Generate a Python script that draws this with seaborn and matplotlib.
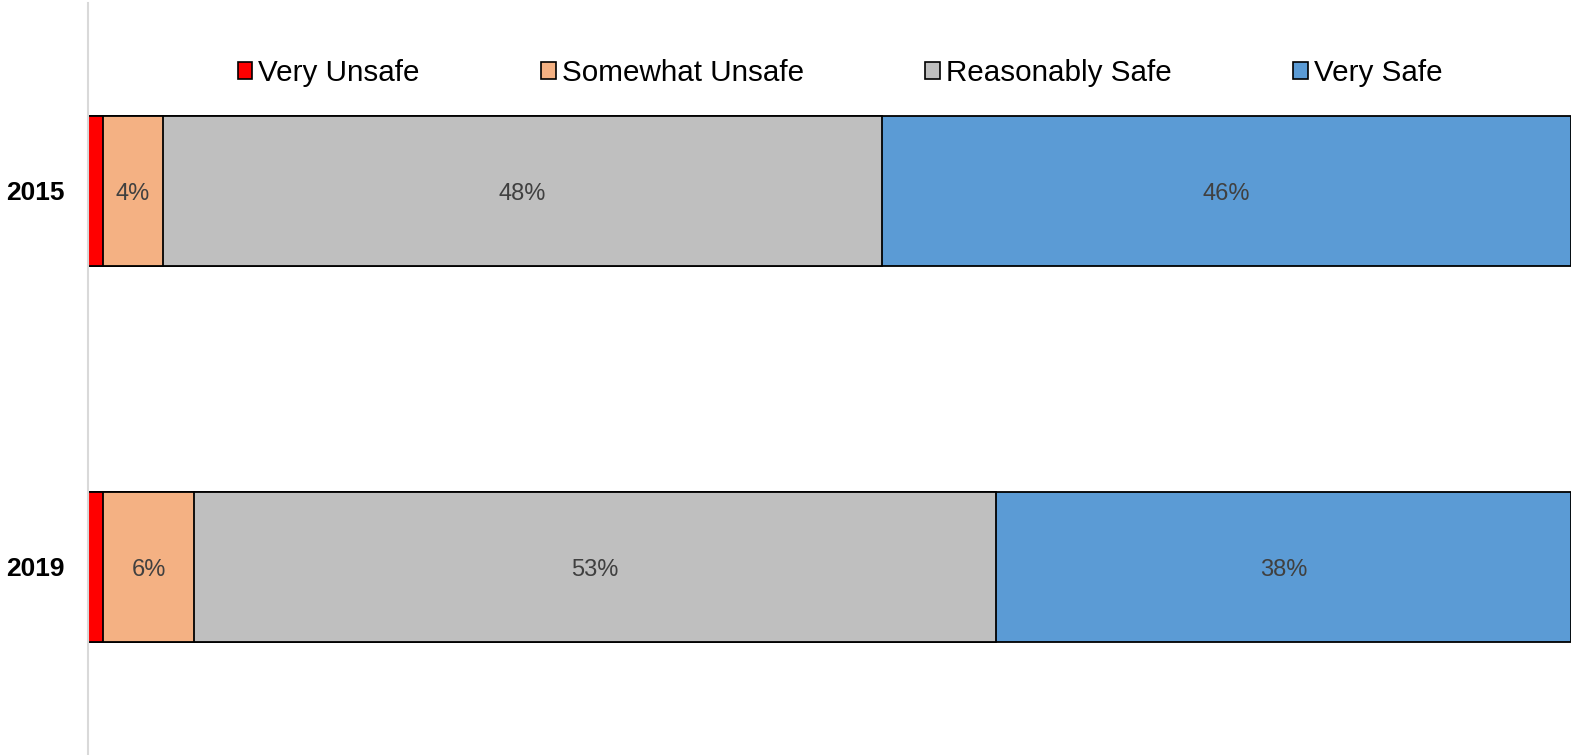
import matplotlib
matplotlib.use('Agg')
import matplotlib.pyplot as plt
import numpy as np
import seaborn as sns
import pandas as pd
from matplotlib.patches import Patch

sns.set_style('white')
plt.rcParams['font.family'] = ['Liberation Sans', 'DejaVu Sans']

years = ['2015', '2019']
categories = ['Very Unsafe', 'Somewhat Unsafe', 'Reasonably Safe', 'Very Safe']
colors = ['#ff0000', '#f4b183', '#bfbfbf', '#5b9bd5']
very_unsafe = [1, 1]
somewhat_unsafe = [4, 6]
reasonably_safe = [48, 53]
very_safe = [46, 38]

df = pd.DataFrame({'year': years,
                   'Very Unsafe': very_unsafe,
                   'Somewhat Unsafe': somewhat_unsafe,
                   'Reasonably Safe': reasonably_safe,
                   'Very Safe': very_safe})

# 100% stacked: shares of each row total
totals = df[categories].sum(axis=1)
shares = df[categories].div(totals, axis=0) * 100
cum = shares.cumsum(axis=1)

fig = plt.figure(figsize=(15.74, 7.55), dpi=100)
ax = fig.add_axes([88/1574, 0, (1571-88)/1574, 752/755])

# draw cumulative bars from the widest down so segments stack
for cat, col in reversed(list(zip(categories, colors))):
    sns.barplot(x=cum[cat], y=df['year'], orient='h', color=col, width=0.4,
                edgecolor='black', linewidth=1.3, saturation=1, ax=ax)

for i in range(len(years)):
    for cat in categories:
        v = df.loc[i, cat]
        if v < 2:
            continue
        xc = cum.loc[i, cat] - shares.loc[i, cat] / 2
        ax.text(xc, i, f'{v}%', ha='center', va='center_baseline', fontsize=17, color='#404040')

ax.set_xlim(0, 100)
ax.set_ylim(1.5, -0.5)
ax.set_xlabel('')
ax.set_ylabel('')
ax.set_xticks([])
ax.tick_params(axis='y', length=0, pad=17)
for lab in ax.get_yticklabels():
    lab.set_fontsize(19)
    lab.set_fontweight('bold')
    lab.set_color('black')
    lab.set_verticalalignment('center_baseline')
for s in ['top', 'right', 'bottom']:
    ax.spines[s].set_visible(False)
ax.spines['left'].set_color('#d9d9d9')
ax.spines['left'].set_linewidth(1.5)

handles = [Patch(facecolor=c, edgecolor='black', linewidth=1.2) for c in colors]
leg = ax.legend(handles, categories, loc='center', bbox_to_anchor=(0.507, 0.907), ncol=4,
                frameon=False, fontsize=21.3, handlelength=0.5, handleheight=0.5,
                handletextpad=0.2, columnspacing=4.1)
for t in leg.get_texts():
    t.set_color('black')

fig.savefig('out.png', dpi=100)
